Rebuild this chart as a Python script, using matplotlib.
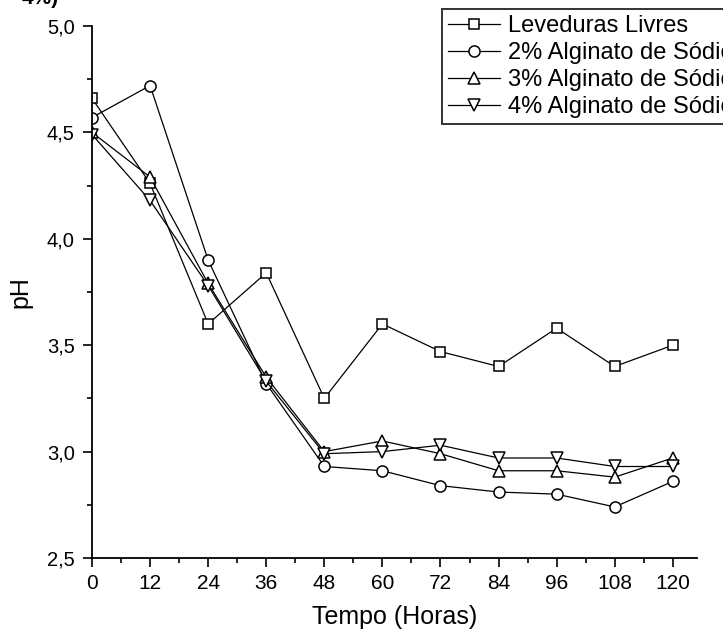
import matplotlib.pyplot as plt
from matplotlib.ticker import MultipleLocator, FuncFormatter

# pH ao longo da fermentacao
tempo = [0, 12, 24, 36, 48, 60, 72, 84, 96, 108, 120]
leveduras_livres = [4.66, 4.26, 3.60, 3.84, 3.25, 3.60, 3.47, 3.40, 3.58, 3.40, 3.50]
alginato_2 = [4.57, 4.72, 3.90, 3.32, 2.93, 2.91, 2.84, 2.81, 2.80, 2.74, 2.86]
alginato_3 = [4.50, 4.29, 3.79, 3.35, 3.00, 3.05, 2.99, 2.91, 2.91, 2.88, 2.97]
alginato_4 = [4.49, 4.18, 3.78, 3.33, 2.99, 3.00, 3.03, 2.97, 2.97, 2.93, 2.93]

series = [
    ("Leveduras Livres", leveduras_livres, "s", 7.5),
    ("2% Alginato de Sódio", alginato_2, "o", 8),
    ("3% Alginato de Sódio", alginato_3, "^", 9),
    ("4% Alginato de Sódio", alginato_4, "v", 9),
]

plt.rcParams["font.family"] = ["Liberation Sans", "DejaVu Sans"]

fig = plt.figure(figsize=(7.23, 6.40), dpi=100)
ax = fig.add_axes([92 / 723, 1 - 558 / 640, (697 - 92) / 723, (558 - 26) / 640])

for label, vals, mk, ms in series:
    ax.plot(tempo, vals, color="black", linewidth=0.9, marker=mk, markersize=ms,
            markerfacecolor="white", markeredgecolor="black", markeredgewidth=1.1,
            label=label)

ax.set_xlim(0, 125)
ax.set_ylim(2.5, 5.0)
ax.spines["top"].set_visible(False)
ax.spines["right"].set_visible(False)
for s in ("left", "bottom"):
    ax.spines[s].set_linewidth(1.3)

ax.xaxis.set_major_locator(MultipleLocator(12))
ax.xaxis.set_minor_locator(MultipleLocator(6))
ax.yaxis.set_major_locator(MultipleLocator(0.5))
ax.yaxis.set_minor_locator(MultipleLocator(0.25))
ax.yaxis.set_major_formatter(FuncFormatter(lambda v, p: f"{v:.1f}".replace(".", ",")))
ax.tick_params(which="major", direction="out", length=6.5, width=1.2, color="black")
ax.tick_params(which="minor", direction="out", length=3.5, width=1.2, color="black")
ax.tick_params(axis="y", labelsize=14.5, pad=6)
ax.tick_params(axis="x", labelsize=15, pad=5)

ax.set_xlabel("Tempo (Horas)", fontsize=18, labelpad=9)
ax.set_ylabel("pH", fontsize=18, labelpad=10)

leg = fig.legend(loc="upper left", bbox_to_anchor=(442 / 723, 1 - 9 / 640),
                 fontsize=17, frameon=True, fancybox=False, handlelength=2.2,
                 handletextpad=0.35, borderpad=0.25, labelspacing=0.22,
                 borderaxespad=0)
leg.get_frame().set_edgecolor("black")
leg.get_frame().set_linewidth(1.4)

fig.text(22 / 723, 1 - 4 / 640, "4%)", fontsize=15, fontweight="bold",
         ha="left", va="baseline")

fig.savefig("out.png", dpi=100)
